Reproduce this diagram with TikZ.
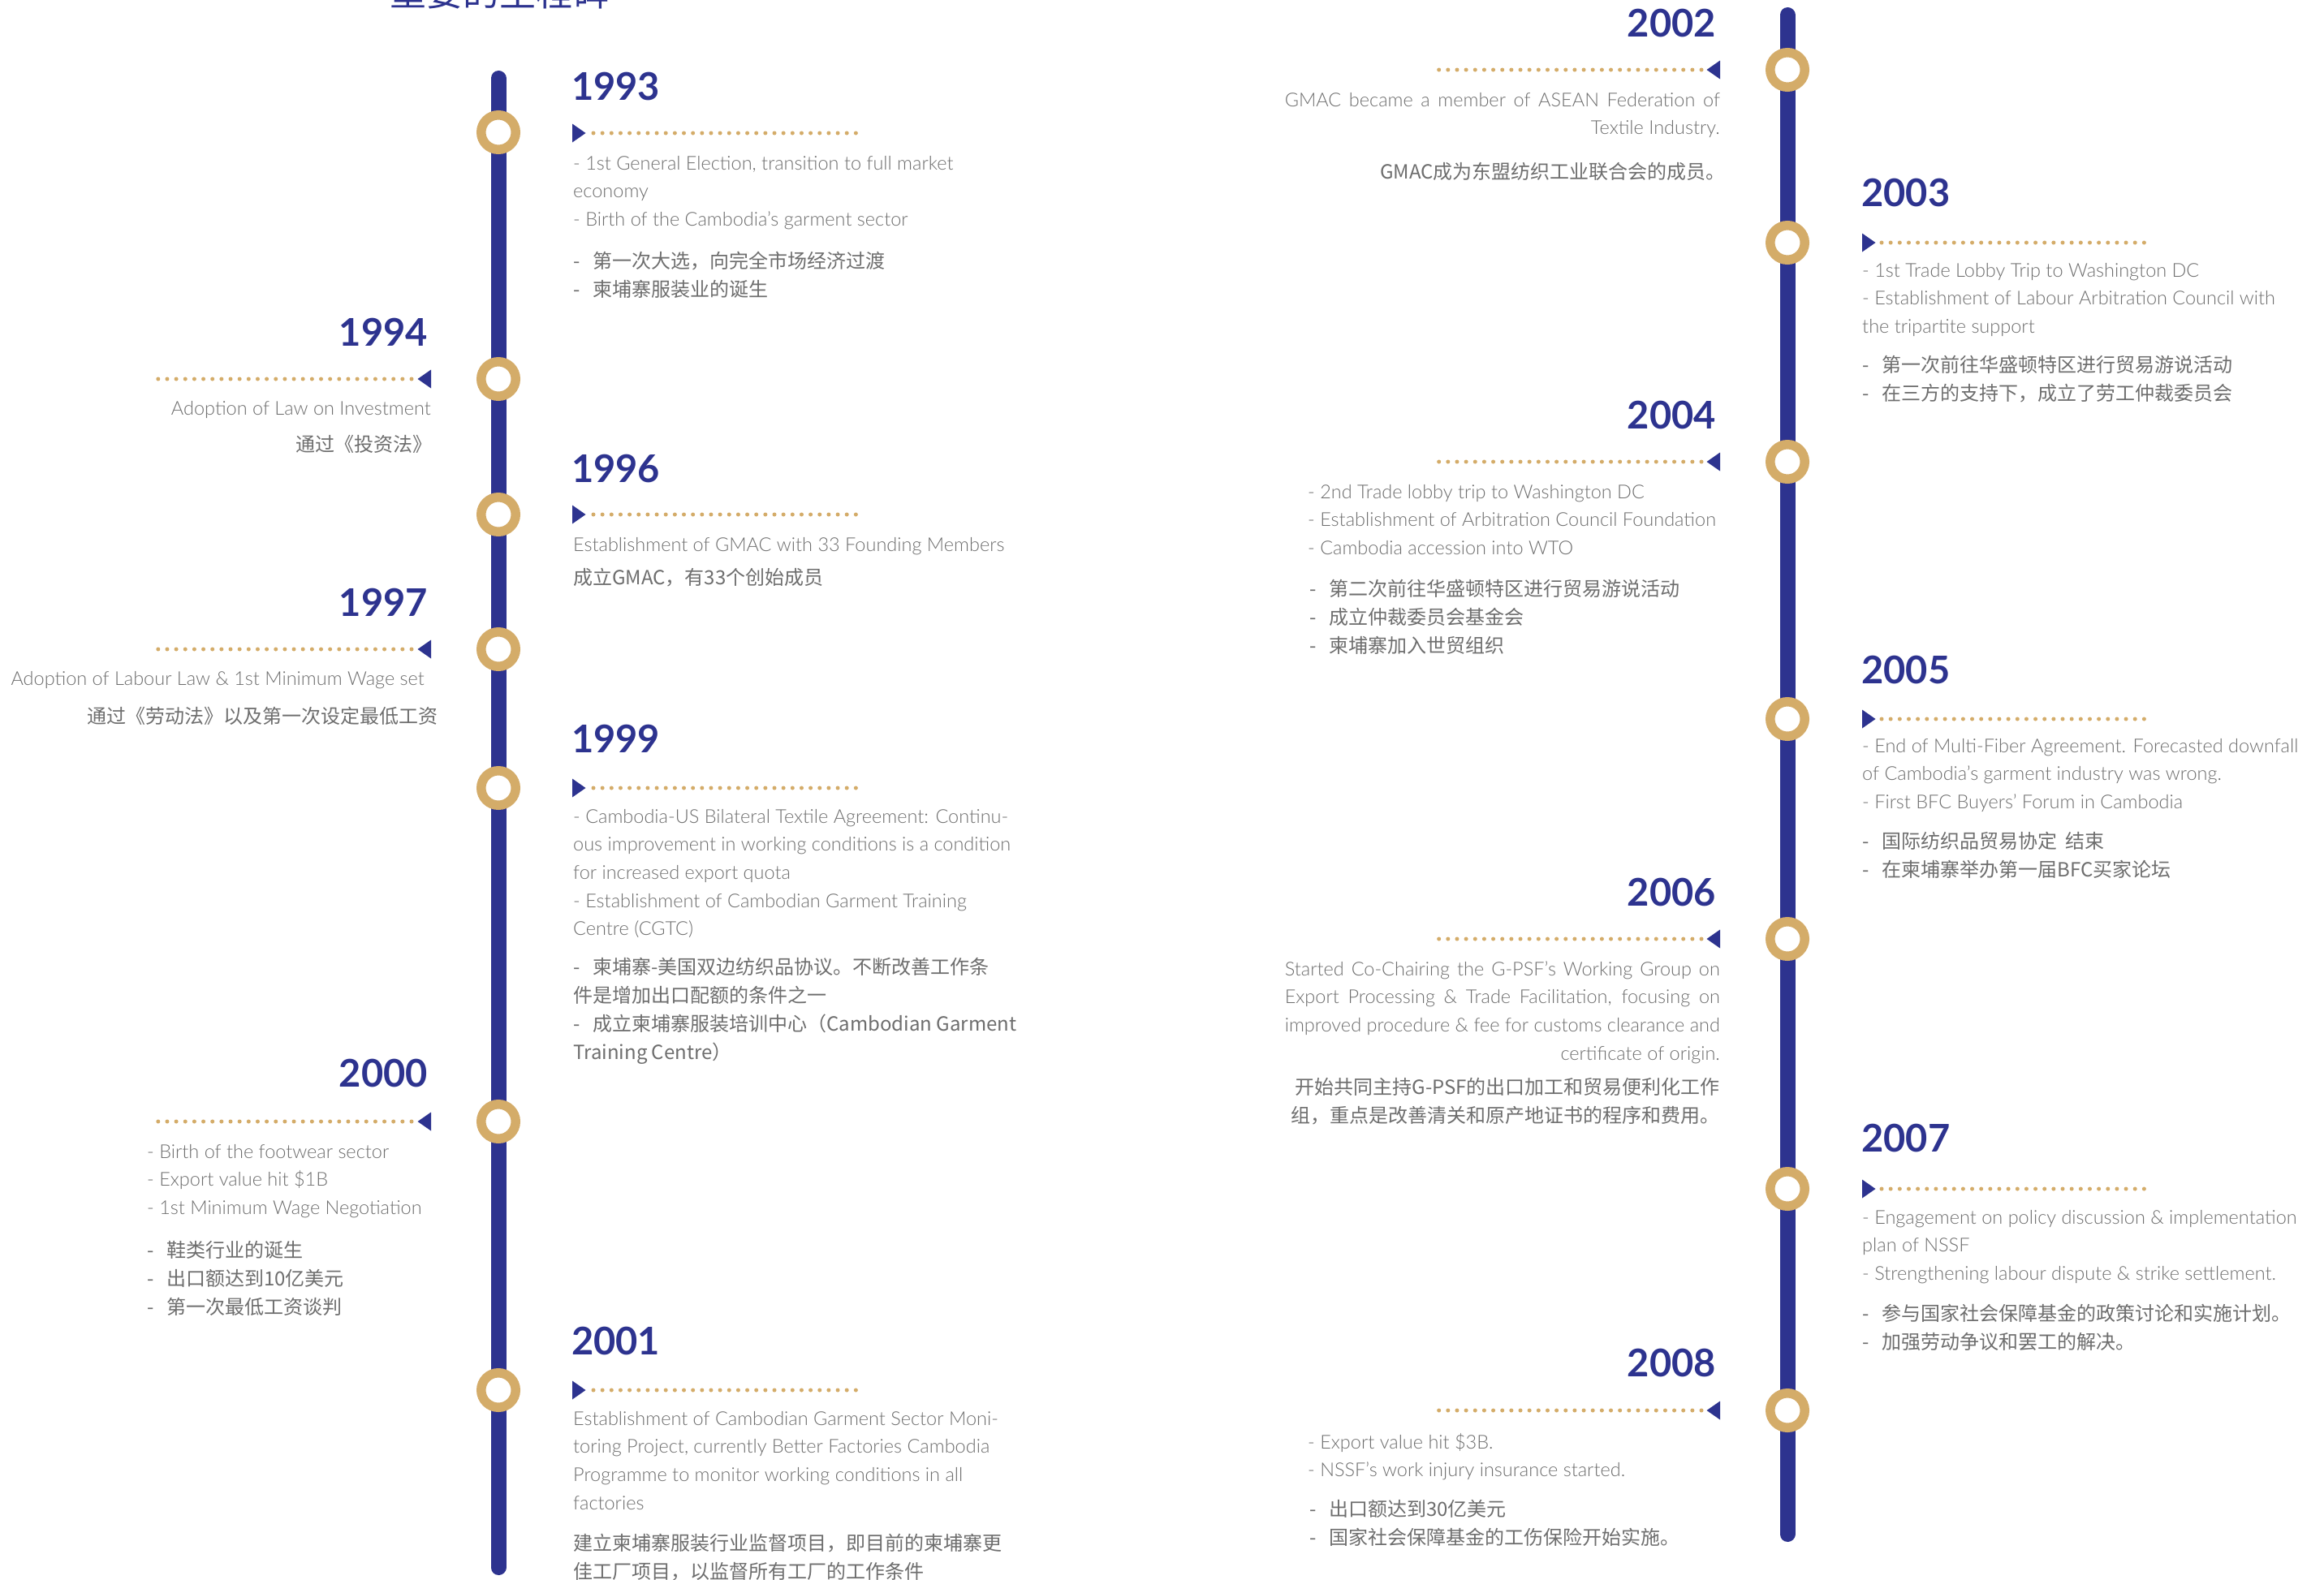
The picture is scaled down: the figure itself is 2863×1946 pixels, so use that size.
\documentclass[tikz,border=0pt]{standalone}
\usepackage{fontspec}
\setmainfont{Lato Light}
\newfontfamily\yearfont{Lato}
\newfontfamily\cjk{Noto Sans CJK SC}
\definecolor{navy}{HTML}{2D338F}
\definecolor{gold}{HTML}{D4AC69}
\definecolor{greytxt}{HTML}{6E6E6E}
\newcommand\EL[1]{\vtop{\fontsize{23.5}{34.7}\selectfont\baselineskip=34.7pt\lineskiplimit=-200pt\halign{##\hfil\cr#1\crcr}}}
\newcommand\ER[1]{\vtop{\fontsize{23.5}{34.7}\selectfont\baselineskip=34.7pt\lineskiplimit=-200pt\halign{\hfil##\cr#1\crcr}}}
\newcommand\CL[1]{\vtop{\cjk\fontsize{24}{35}\selectfont\baselineskip=35pt\lineskiplimit=-200pt\halign{##\hfil\cr#1\crcr}}}
\newcommand\CR[1]{\vtop{\cjk\fontsize{24}{35}\selectfont\baselineskip=35pt\lineskiplimit=-200pt\halign{\hfil##\cr#1\crcr}}}
\newcommand\cd{\makebox[24pt][l]{-}}
\newcommand\jb[1]{\hbox to 536pt{#1}}
% arrow markers: (base x, y, dots start, dots end)
\newcommand\arrR[4]{\fill[navy] (#1,#2-11.5) -- (#1+16.5,#2) -- (#1,#2+11.5) -- cycle;
  \draw[dots] (#3,#2) -- (#4,#2);}
\newcommand\arrL[4]{\fill[navy] (#1,#2-11.5) -- (#1-16.5,#2) -- (#1,#2+11.5) -- cycle;
  \draw[dots] (#3,#2) -- (#4,#2);}
\tikzset{
  spine/.style={line width=19pt, draw=navy, line cap=round},
  ring/.style={circle, draw=gold, line width=11.5pt, fill=white, minimum size=42.5pt, inner sep=0pt},
  yr/.style={font=\yearfont\bfseries\fontsize{47}{47}\selectfont, text=navy, inner sep=0pt},
  dots/.style={draw=gold, line width=5pt, line cap=round, dash pattern=on 0pt off 11.15pt},
  txt/.style={inner sep=0pt, text=greytxt},
}
\begin{document}
\begin{tikzpicture}[x=1pt,y=-1pt]
\useasboundingbox (0,0) rectangle (2863,1946);
\fill[white] (0,0) rectangle (2863,1946);
% title (cut by the top edge, as in the reference)
\node[anchor=base west, inner sep=0pt, text=navy, font=\cjk\fontsize{45}{45}\selectfont] (title) at (480,7) {重要的里程碑};
% spines
\coordinate (Ltop) at (614,96.5);
\coordinate (Lbot) at (614,1931.5);
\coordinate (Rtop) at (2202,18.5);
\coordinate (Rbot) at (2202,1890.5);
\draw[spine] (Ltop) -- (Lbot);
\draw[spine] (Rtop) -- (Rbot);
% rings
\node[ring] (r1993) at (614,163) {};
\node[ring] (r1994) at (614,467) {};
\node[ring] (r1996) at (614,634) {};
\node[ring] (r1997) at (614,800) {};
\node[ring] (r1999) at (614,971) {};
\node[ring] (r2000) at (614,1382) {};
\node[ring] (r2001) at (614,1713) {};
\node[ring] (r2002) at (2202,86) {};
\node[ring] (r2003) at (2202,299) {};
\node[ring] (r2004) at (2202,569) {};
\node[ring] (r2005) at (2202,886) {};
\node[ring] (r2006) at (2202,1157) {};
\node[ring] (r2007) at (2202,1465) {};
\node[ring] (r2008) at (2202,1738) {};
% arrows + dotted leaders
\arrR{705}{164}{731}{1055}
\arrL{531}{467}{507}{184}
\arrR{705}{634}{731}{1055}
\arrL{531}{800}{507}{184}
\arrR{705}{971}{731}{1055}
\arrL{531}{1382}{507}{184}
\arrR{705}{1713}{731}{1055}
\arrL{2119}{86}{2096}{1771}
\arrR{2294}{299}{2318}{2642}
\arrL{2119}{569}{2096}{1771}
\arrR{2294}{886}{2318}{2642}
\arrL{2119}{1157}{2096}{1771}
\arrR{2294}{1465}{2318}{2642}
\arrL{2119}{1738}{2096}{1771}
% years
\node[yr, anchor=base west] (y1993) at (704,123) {1993};
\node[yr, anchor=base east] (y1994) at (527,426) {1994};
\node[yr, anchor=base west] (y1996) at (704,594) {1996};
\node[yr, anchor=base east] (y1997) at (527,759) {1997};
\node[yr, anchor=base west] (y1999) at (704,927) {1999};
\node[yr, anchor=base east] (y2000) at (527,1339) {2000};
\node[yr, anchor=base west] (y2001) at (704,1669) {2001};
\node[yr, anchor=base east] (y2002) at (2114,45) {2002};
\node[yr, anchor=base west] (y2003) at (2293,254) {2003};
\node[yr, anchor=base east] (y2004) at (2114,528) {2004};
\node[yr, anchor=base west] (y2005) at (2293,842) {2005};
\node[yr, anchor=base east] (y2006) at (2114,1116) {2006};
\node[yr, anchor=base west] (y2007) at (2293,1419) {2007};
\node[yr, anchor=base east] (y2008) at (2114,1696) {2008};
% texts
\node[txt, anchor=base west] (e1993) at (706,209) {\EL{- 1st General Election, transition to full market\cr economy\cr - Birth of the Cambodia's garment sector}};
\node[txt, anchor=base west] (c1993) at (706,330) {\CL{\cd 第一次大选，向完全市场经济过渡\cr \cd 柬埔寨服装业的诞生}};
\node[txt, anchor=base east] (e1994) at (531,511) {\ER{Adoption of Law on Investment}};
\node[txt, anchor=base east] (c1994) at (533,556) {\CR{通过《投资法》}};
\node[txt, anchor=base west] (e1996) at (706,679) {\EL{Establishment of GMAC with 33 Founding Members}};
\node[txt, anchor=base west] (c1996) at (706,720) {\CL{成立GMAC，有33个创始成员}};
\node[txt, anchor=base east] (e1997) at (523,844) {\ER{Adoption of Labour Law \& 1st Minimum Wage set}};
\node[txt, anchor=base east] (c1997) at (540,891) {\CR{通过《劳动法》以及第一次设定最低工资}};
\node[txt, anchor=base west] (e1999) at (706,1014) {\EL{- Cambodia-US Bilateral Textile Agreement: Continu-\cr ous improvement in working conditions is a condition\cr for increased export quota\cr - Establishment of Cambodian Garment Training\cr Centre (CGTC)}};
\node[txt, anchor=base west] (c1999) at (706,1200) {\CL{\cd 柬埔寨-美国双边纺织品协议。不断改善工作条\cr 件是增加出口配额的条件之一\cr \cd 成立柬埔寨服装培训中心（Cambodian Garment\cr Training Centre）}};
\node[txt, anchor=base west] (e2000) at (181,1427) {\EL{- Birth of the footwear sector\cr - Export value hit \$1B\cr - 1st Minimum Wage Negotiation}};
\node[txt, anchor=base west] (c2000) at (181,1549) {\CL{\cd 鞋类行业的诞生\cr \cd 出口额达到10亿美元\cr \cd 第一次最低工资谈判}};
\node[txt, anchor=base west] (e2001) at (706,1756) {\EL{Establishment of Cambodian Garment Sector Moni-\cr toring Project, currently Better Factories Cambodia\cr Programme to monitor working conditions in all\cr factories}};
\node[txt, anchor=base west] (c2001) at (706,1910) {\CL{建立柬埔寨服装行业监督项目，即目前的柬埔寨更\cr 佳工厂项目，以监督所有工厂的工作条件}};
\node[txt, anchor=base east] (e2002) at (2119,131) {\ER{\jb{GMAC became a member of ASEAN Federation of}\cr Textile Industry.}};
\node[txt, anchor=base east] (c2002) at (2126,220) {\CR{GMAC成为东盟纺织工业联合会的成员。}};
\node[txt, anchor=base west] (e2003) at (2294,341) {\EL{- 1st Trade Lobby Trip to Washington DC\cr - Establishment of Labour Arbitration Council with\cr the tripartite support}};
\node[txt, anchor=base west] (c2003) at (2294,458) {\CL{\cd 第一次前往华盛顿特区进行贸易游说活动\cr \cd 在三方的支持下，成立了劳工仲裁委员会}};
\node[txt, anchor=base west] (e2004) at (1611,614) {\EL{- 2nd Trade lobby trip to Washington DC\cr - Establishment of Arbitration Council Foundation\cr - Cambodia accession into WTO}};
\node[txt, anchor=base west] (c2004) at (1613,734) {\CL{\cd 第二次前往华盛顿特区进行贸易游说活动\cr \cd 成立仲裁委员会基金会\cr \cd 柬埔寨加入世贸组织}};
\node[txt, anchor=base west] (e2005) at (2294,927) {\EL{- End of Multi-Fiber Agreement. Forecasted downfall\cr of Cambodia's garment industry was wrong.\cr - First BFC Buyers' Forum in Cambodia}};
\node[txt, anchor=base west] (c2005) at (2294,1045) {\CL{\cd 国际纺织品贸易协定\ \ 结束\cr \cd 在柬埔寨举办第一届BFC买家论坛}};
\node[txt, anchor=base east] (e2006) at (2119,1202) {\ER{\jb{Started Co-Chairing the G-PSF's Working Group on}\cr \jb{Export Processing \& Trade Facilitation, focusing on}\cr \jb{improved procedure \& fee for customs clearance and}\cr certificate of origin.}};
\node[txt, anchor=base east] (c2006) at (2119,1348) {\CR{开始共同主持G-PSF的出口加工和贸易便利化工作\cr 组，重点是改善清关和原产地证书的程序和费用。}};
\node[txt, anchor=base west] (e2007) at (2294,1508) {\EL{- Engagement on policy discussion \& implementation\cr plan of NSSF\cr - Strengthening labour dispute \& strike settlement.}};
\node[txt, anchor=base west] (c2007) at (2294,1627) {\CL{\cd 参与国家社会保障基金的政策讨论和实施计划。\cr \cd 加强劳动争议和罢工的解决。}};
\node[txt, anchor=base west] (e2008) at (1611,1785) {\EL{- Export value hit \$3B.\cr - NSSF's work injury insurance started.}};
\node[txt, anchor=base west] (c2008) at (1613,1868) {\CL{\cd 出口额达到30亿美元\cr \cd 国家社会保障基金的工伤保险开始实施。}};
\end{tikzpicture}
\end{document}
